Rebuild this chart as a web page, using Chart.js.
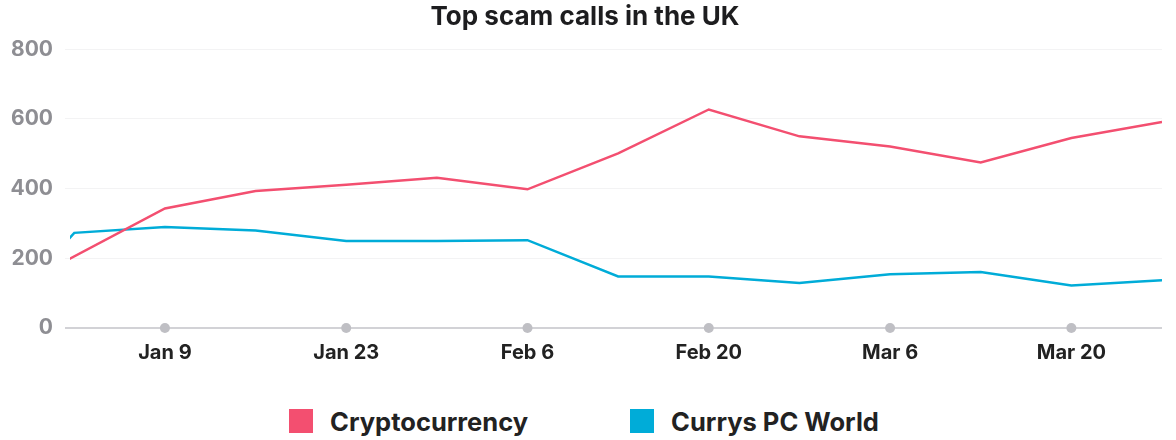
<!DOCTYPE html>
<html>
<head>
<meta charset="utf-8">
<script src="https://cdn.jsdelivr.net/npm/chart.js@4"></script>
<style>
  body { margin: 0; background: #fff; }
  #wrap { position: relative; width: 1176px; height: 440px; }
  #legend {
    position: absolute; left: 0; top: 404px; width: 1168px; height: 34px;
    display: flex; justify-content: center; align-items: center; gap: 102px;
    font-family: Inter, 'Open Sans', sans-serif; font-weight: 700; font-size: 25.5px; color: #222;
  }
  .item { display: flex; align-items: center; }
  .swatch { width: 24px; height: 24px; margin-right: 17px; }
</style>
</head>
<body>
<div id="wrap">
  <canvas id="chart" width="1176" height="383"></canvas>
  <div id="legend"></div>
</div>
<script>
// ---- Data (x = days since Jan 1) ----
const cryptoDays = [0, 8, 15, 22, 29, 36, 43, 50, 57, 64, 71, 78, 85];
const cryptoValues = [186, 343, 393, 411, 431, 398, 501, 627, 550, 521, 475, 545, 591];
const currysDays = [0, 1, 8, 15, 22, 29, 36, 43, 50, 57, 64, 71, 78, 85];
const currysValues = [232, 273, 290, 280, 250, 250, 252, 148, 148, 129, 154, 161, 122, 137];
const tickDays = [8, 22, 36, 50, 64, 78];
const tickLabels = ['Jan 9', 'Jan 23', 'Feb 6', 'Feb 20', 'Mar 6', 'Mar 20'];
const yTicks = [0, 200, 400, 600, 800];
const seriesNames = ['Cryptocurrency', 'Currys PC World'];
const seriesColors = ['#f34f70', '#00acd8'];

const toPoints = (xs, ys) => xs.map((x, i) => ({ x: x, y: ys[i] }));

Chart.defaults.font.family = "Inter, 'Open Sans', sans-serif";

const ctx = document.getElementById('chart').getContext('2d');
const chart = new Chart(ctx, {
    type: 'line',
    data: {
        datasets: [
            {
                label: seriesNames[0],
                data: toPoints(cryptoDays, cryptoValues),
                borderColor: seriesColors[0],
                backgroundColor: seriesColors[0],
                borderWidth: 2.5,
                pointRadius: 0
            },
            {
                label: seriesNames[1],
                data: toPoints(currysDays, currysValues),
                borderColor: seriesColors[1],
                backgroundColor: seriesColors[1],
                borderWidth: 2.5,
                pointRadius: 0
            },
            {
                // grey markers sitting on the axis at each tick
                label: 'ticks',
                data: tickDays.map(d => ({ x: d, y: 0 })),
                showLine: false,
                pointRadius: 5,
                pointBackgroundColor: '#bfbfc4',
                pointBorderWidth: 0,
                clip: false
            }
        ]
    },
    options: {
        responsive: false,
        animation: false,
        events: [],
        layout: { padding: { left: 8, right: 14, top: 0, bottom: 6 } },
        scales: {
            x: {
                type: 'linear',
                min: 0.67,
                max: 85,
                afterBuildTicks: (axis) => {
                    axis.ticks = tickDays.map(v => ({ value: v }));
                },
                ticks: {
                    autoSkip: false,
                    maxRotation: 0,
                    padding: 12.5,
                    color: '#222',
                    font: { size: 20, weight: 'bold' },
                    callback: (value) => tickLabels[tickDays.indexOf(value)]
                },
                grid: { display: false, drawTicks: false },
                border: { display: false }
            },
            y: {
                min: 0,
                max: 800,
                afterBuildTicks: (axis) => {
                    axis.ticks = yTicks.map(v => ({ value: v }));
                },
                afterFit: (axis) => {
                    axis.width = 62;
                },
                ticks: {
                    padding: 12,
                    color: '#8e8e93',
                    font: { size: 21, weight: 'bold' }
                },
                grid: {
                    drawTicks: true,
                    tickLength: 5,
                    color: (c) => c.tick && c.tick.value === 0 ? '#d2d2d6' : '#f3f3f4',
                    lineWidth: (c) => c.tick && c.tick.value === 0 ? 2 : 1
                },
                border: { display: false }
            }
        },
        plugins: {
            title: {
                display: true,
                text: 'Top scam calls in the UK',
                color: '#1d1d1f',
                font: { size: 26, weight: 'bold' },
                padding: { top: 2, bottom: 16 }
            },
            legend: { display: false },
            tooltip: { enabled: false }
        }
    }
});

// ---- HTML legend ----
const legendEl = document.getElementById('legend');
seriesNames.forEach((name, i) => {
    const item = document.createElement('div');
    item.className = 'item';
    const sw = document.createElement('span');
    sw.className = 'swatch';
    sw.style.background = seriesColors[i];
    const label = document.createElement('span');
    label.textContent = name;
    item.appendChild(sw);
    item.appendChild(label);
    legendEl.appendChild(item);
});
</script>
</body>
</html>
